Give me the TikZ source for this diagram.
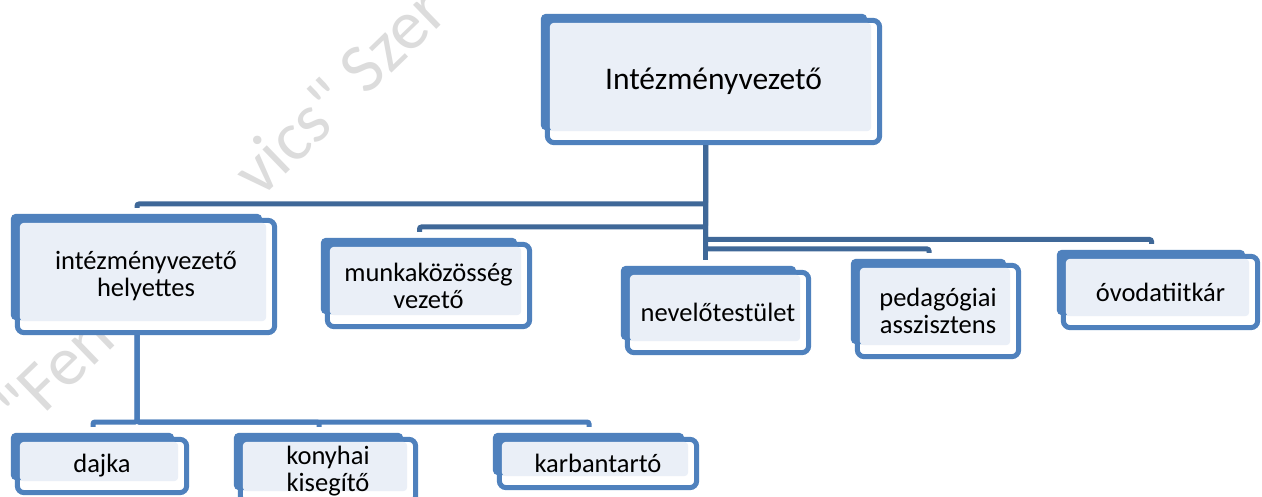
\documentclass[tikz,border=0pt]{standalone}
\usepackage{fontspec}
\setmainfont{Carlito}
\newfontfamily\wmfont{Carlito}
\pgfdeclarelayer{wm}
\pgfdeclarelayer{bg}
\pgfsetlayers{wm,bg,main}
\definecolor{boxblue}{RGB}{79,129,189}
\definecolor{lightfill}{RGB}{234,239,247}
\definecolor{connA}{RGB}{63,104,152}
\definecolor{connB}{RGB}{74,125,187}
\definecolor{wmgray}{RGB}{220,220,220}
\begin{document}
\begin{tikzpicture}[x=1pt,y=-1pt,
  lbl/.style={font=\fontsize{26.5}{27}\selectfont, align=center, inner sep=0pt, text=black},
  boxsize/.style 2 args={minimum width=#1pt, minimum height=#2pt},
  conn1/.style={draw=connA, line width=5pt, rounded corners=2pt},
  conn2/.style={draw=connB, line width=5pt, rounded corners=2pt},
  wmtext/.style={font=\wmfont\fontsize{70}{70}\selectfont, text=wmgray, inner sep=0pt, anchor=base west, rotate=44}]
\useasboundingbox (0,0) rectangle (1262,497);

% nodes (outer frame bounds)
\node[lbl, boxsize={337}{127}, font=\fontsize{31.5}{32}\selectfont] (top) at (713.5,81.5) {Intézményvezető};
\node[lbl, boxsize={262}{117}] (help) at (146,276.5) {intézményvezető\\helyettes};
\node[lbl, boxsize={207}{87}] (munka) at (428.5,285.5) {munkaközösség\\vezető};
\node[lbl, boxsize={186}{85}] (nevelo) at (718,312.5) {nevelőtestület};
\node[lbl, boxsize={166}{96}] (ped) at (938,311) {pedagógiai\\asszisztens};
\node[lbl, boxsize={199}{76}] (ovoda) at (1160.5,292) {óvodatiitkár};
\node[lbl, boxsize={174}{58}] (dajka) at (102,466) {dajka};
\node[lbl, boxsize={180}{68}] (konyha) at (328,471) {konyhai\\kisegítő};
\node[lbl, boxsize={202}{53}] (karb) at (598,463.5) {karbantartó};

% box frames
\begin{pgfonlayer}{bg}
\foreach \n in {top,help,munka,nevelo,ped,ovoda,dajka,konyha,karb}{
  \draw[draw=boxblue, line width=5pt, fill=white, rounded corners=7pt]
    ([xshift=2.5pt,yshift=-2.5pt]\n.north west) rectangle ([xshift=-2.5pt,yshift=2.5pt]\n.south east);
  \fill[boxblue, rounded corners=5pt]
    ([xshift=-4pt,yshift=4pt]\n.north west) rectangle ([xshift=-15pt,yshift=15pt]\n.south east);
  \fill[lightfill, rounded corners=4pt]
    ([xshift=5pt,yshift=-5pt]\n.north west) rectangle ([xshift=-11pt,yshift=14pt]\n.south east);
}
\end{pgfonlayer}

% background and watermark
\begin{pgfonlayer}{wm}
\fill[white] (0,0) rectangle (1262,497);
\node[wmtext] (wmA) at (24,434) {"Fen};
\node[wmtext] (wmB) at (260,200) {vics" Szer};
\end{pgfonlayer}

% connectors
\coordinate (y204) at (0,204);
\coordinate (y227) at (0,227);
\coordinate (y239) at (0,239.5);
\coordinate (y249) at (0,249);
\coordinate (y422) at (0,422);
\coordinate (T) at ([xshift=-8pt]top.south);
\coordinate (H) at ([xshift=-9pt]help.south);
\coordinate (nevin) at ([yshift=10pt]nevelo.north);

\draw[conn1] (T) -- (T |- y204) -| ([xshift=-9pt,yshift=10pt]help.north);
\draw[conn1] (T) -- (T |- y227) -| ([xshift=-9pt,yshift=10pt]munka.north);
\draw[conn1] (T) -- (T |- y239) -| ([xshift=-9pt,yshift=10pt]ovoda.north);
\draw[conn1] (T) -- (T |- y249) -| ([xshift=-9pt,yshift=10pt]ped.north);
\draw[conn1] (T) -- (T |- nevin);

\draw[conn2] (H) -- (H |- y422) -| ([xshift=-9pt,yshift=10pt]dajka.north);
\draw[conn2] (H) -- (H |- y422) -| ([xshift=-9pt,yshift=10pt]konyha.north);
\draw[conn2] (H) -- (H |- y422) -| ([xshift=-9pt,yshift=10pt]karb.north);
\end{tikzpicture}
\end{document}
